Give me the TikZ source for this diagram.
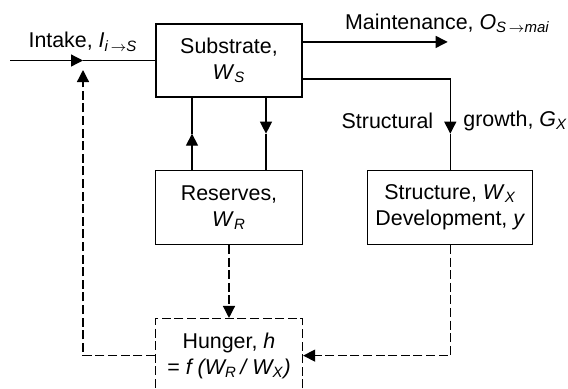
\documentclass[tikz,border=0pt]{standalone}
\usepackage{fontspec}
\setmainfont{Liberation Sans}
\usetikzlibrary{positioning,calc,arrows.meta}
\newcommand{\vsub}[2]{\textit{#1}\textsubscript{\textit{#2}}}

\begin{document}
\begin{tikzpicture}[
        x=0.5pt, y=-0.5pt,
        font=\fontsize{10.7}{13}\selectfont,
        pool/.style={rectangle, draw=black, line width=0.65pt, align=center, minimum height=37pt, inner sep=2pt},
        flow/.style={line width=0.65pt},
        tip/.style={-{Triangle[length=6pt,width=6pt]}},
        signal/.style={line width=0.65pt, dash pattern=on 4.5pt off 1.8pt},
        node distance= 36pt and 32pt
        ]
        \useasboundingbox (0,0) rectangle (568,388);

        \node[pool, minimum width=73pt, minimum height=36.5pt] (substrate) at (229,60.5) {Substrate,\\ \vsub{W}{S}};
        \node[pool, minimum width=73.5pt] (reserves)  [below=of substrate]   {Reserves,\\ \vsub{W}{R}};
        \node[pool, minimum width=82.5pt] (structure) [right=of reserves]    {Structure, \vsub{W}{X}\\ Development, \textit{y}};
        \node[pool, signal, minimum width=73.5pt] (hunger) [below=36.5pt of reserves] {Hunger, \textit{h}\\ = \textit{f (W\textsubscript{R}\,/ W\textsubscript{X})}};

        %Points
        \coordinate (intake) at (10,60.5);
        \coordinate (meet)   at (83,60.5);
        \coordinate (feed)   at (83,70);
        \coordinate (mout) at ($(substrate.north east)!0.25!(substrate.south east)$);
        \coordinate (gout) at ($(substrate.north east)!0.75!(substrate.south east)$);
        \coordinate (mai)  at ($(mout)+(145,0)$);
        \coordinate (grow) at ($(structure.north)+(0,-36)$);
        \coordinate (upA)   at ($(reserves.north)+(-37,-36)$);
        \coordinate (downA) at ($(reserves.north)+(37,-36)$);

        %Flows
        \draw[flow, tip] (intake) -- (meet) node[above=1pt] {Intake, \vsub{I}{i\,$\rightarrow$S}};
        \draw[flow] (meet) -- (substrate.west);
        \draw[flow, tip] (mout) -- (mai) node[above=1pt] {Maintenance, \vsub{O}{S\,$\rightarrow$mai}};
        \draw[flow, tip] (gout) -| (grow);
        \draw[flow] (grow) -- (structure.north);
        \node[left]  (structlbl) at ($(grow)+(-10,-13)$) {Structural};
        \node[right] (growlbl)   at ($(grow)+(6,-13)$)   {growth, \vsub{G}{X}};
        \draw[flow, tip] ($(reserves.north)+(-37,0)$) -- (upA);
        \draw[flow] (upA) -- (upA |- substrate.south);
        \draw[flow, tip] ($(substrate.south)+(37,0)$) -- (downA);
        \draw[flow] (downA) -- (downA |- reserves.north);

        %Signals
        \draw[signal, tip] (reserves.south) -- (hunger.north);
        \draw[signal, tip] (structure.south) |- (hunger.east);
        \draw[signal, tip] (hunger.west) -| (feed);

\end{tikzpicture}
\end{document}
